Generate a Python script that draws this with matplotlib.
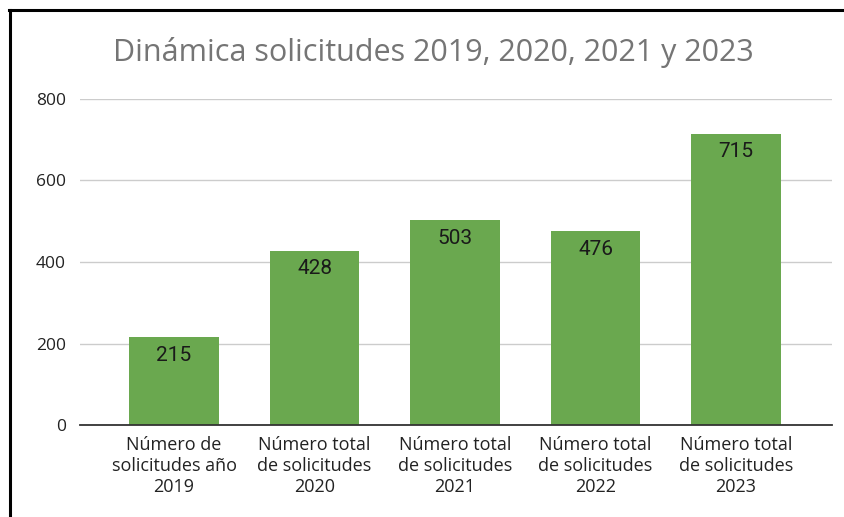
import matplotlib.pyplot as plt
from matplotlib.lines import Line2D

categories = ["Número de\nsolicitudes año\n2019",
              "Número total\nde solicitudes\n2020",
              "Número total\nde solicitudes\n2021",
              "Número total\nde solicitudes\n2022",
              "Número total\nde solicitudes\n2023"]
values = [215, 428, 503, 476, 715]
yticks = [0, 200, 400, 600, 800]

fig = plt.figure(figsize=(8.44, 5.17), dpi=100)
# axes area in pixels: x 80..832, y 99..425 (from top)
W, H = 844, 517
ax = fig.add_axes([80 / W, (H - 425) / H, (832 - 80) / W, (425 - 99) / H])

x = list(range(len(values)))
bars = ax.bar(x, values, width=0.64, color="#6aa84f", zorder=2)

for b, v in zip(bars, values):
    ax.annotate(str(v), (b.get_x() + b.get_width() / 2, v), xytext=(0, -13),
                textcoords="offset points", ha="center", va="center",
                fontsize=15, family="Roboto", color="#1a1a1a", zorder=3)

ax.set_xlim(-0.669, 4.683)
ax.set_ylim(0, 800)
ax.set_yticks(yticks)
ax.set_yticklabels([str(t) for t in yticks], family="Open Sans", fontsize=12.5, color="#222222")
ax.set_xticks(x)
ax.set_xticklabels(categories, family="Open Sans", fontsize=13, color="#222222", linespacing=1.2)
ax.tick_params(axis="both", length=0)
ax.tick_params(axis="y", pad=10)
ax.tick_params(axis="x", pad=8)
ax.grid(axis="y", color="#cccccc", linewidth=1, zorder=1)
for s in ["top", "right", "left"]:
    ax.spines[s].set_visible(False)
ax.spines["bottom"].set_color("#333333")
ax.spines["bottom"].set_linewidth(1.3)
ax.spines["bottom"].set_zorder(4)

fig.text(433 / W, 1 - 53 / H, "Dinámica solicitudes 2019, 2020, 2021 y 2023",
         ha="center", va="center", fontsize=22, family="Open Sans", color="#757575")

# black frame on top and left (screenshot crop)
fig.add_artist(Line2D([10 / W, 10 / W], [0, 1 - 10 / H], color="black", linewidth=2.2,
                      transform=fig.transFigure))
fig.add_artist(Line2D([9 / W, 1], [1 - 10 / H, 1 - 10 / H], color="black", linewidth=2.2,
                      transform=fig.transFigure))

fig.savefig("out.png", dpi=100)
